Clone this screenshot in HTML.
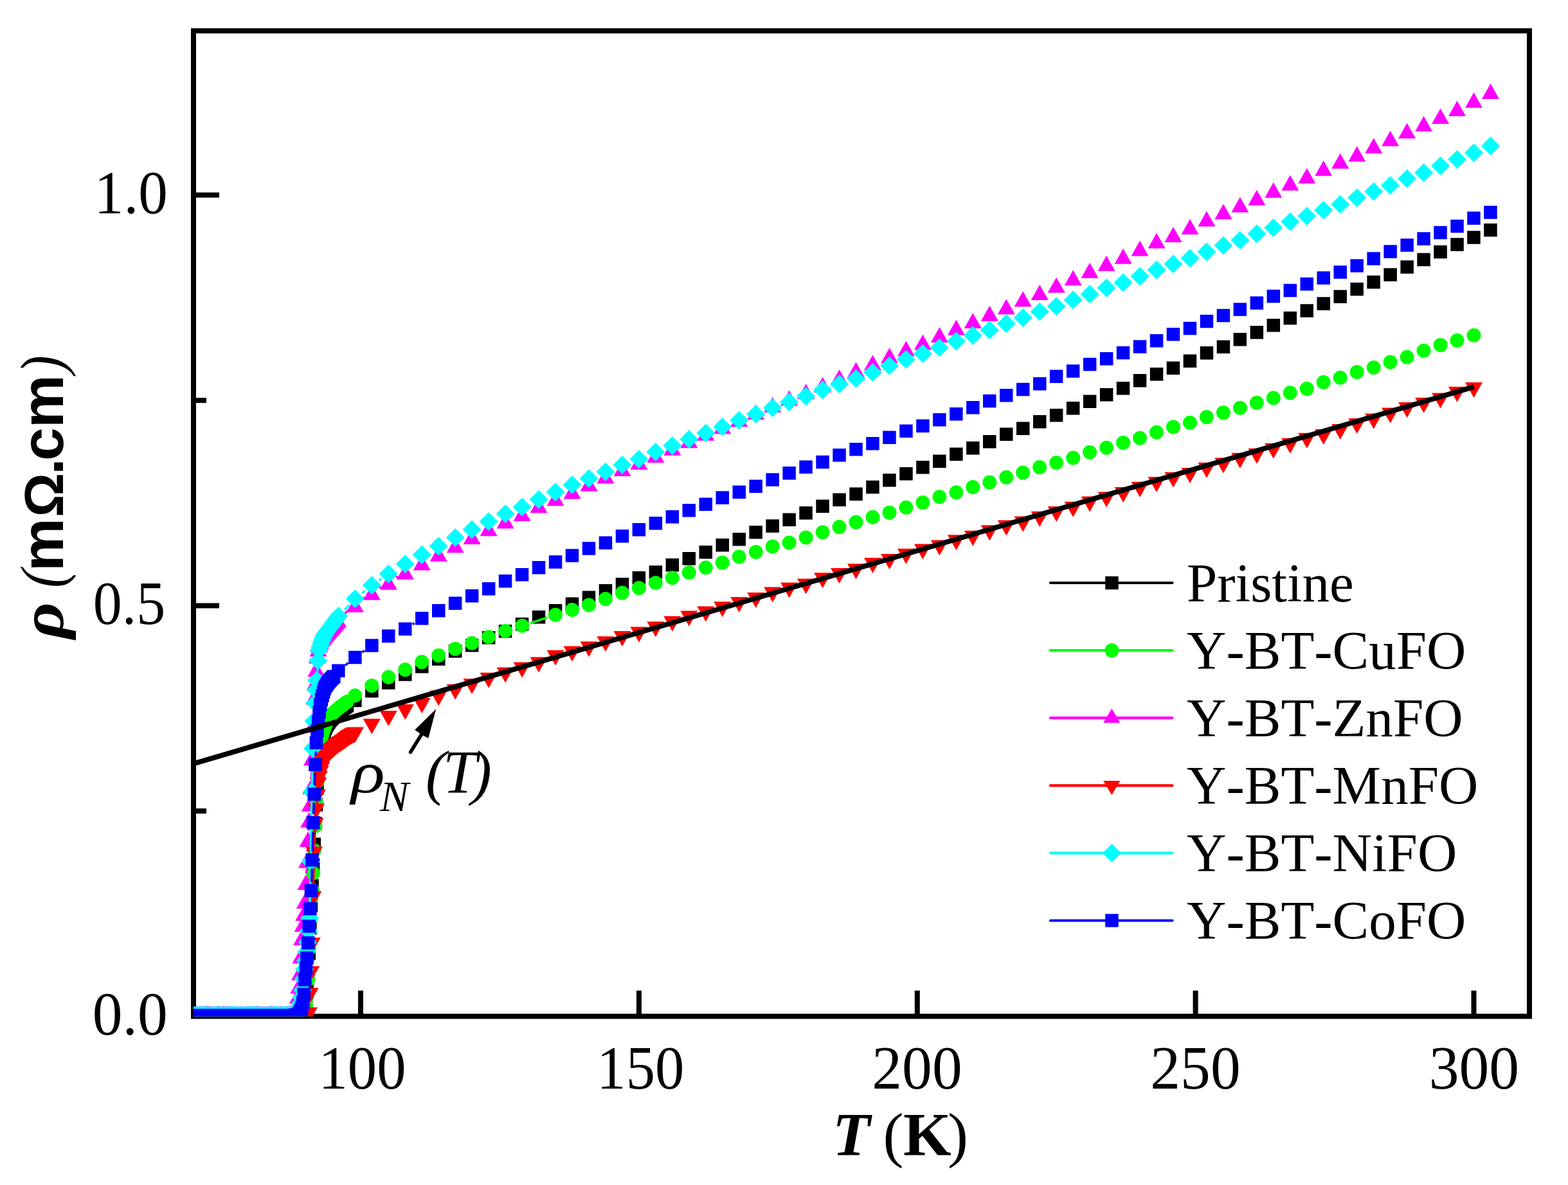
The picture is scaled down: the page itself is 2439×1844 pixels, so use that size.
<!DOCTYPE html>
<html><head><meta charset="utf-8"><title>Resistivity vs temperature</title>
<style>
html,body{margin:0;padding:0;background:#fff;}
body{width:2439px;height:1844px;overflow:hidden;}
svg{display:block;}
text{font-family:"Liberation Serif","Times New Roman",serif;fill:#000;font-kerning:none;text-rendering:optimizeSpeed;font-variant-ligatures:none;}
.tk{font-size:95px;}
.lg{font-size:85px;}
</style></head><body>
<svg width="2439" height="1844" viewBox="0 0 2439 1844">
<rect width="2439" height="1844" fill="#fff"/>
<defs><clipPath id="cp"><rect x="301" y="48" width="2078" height="1533.5"/></clipPath></defs>
<rect x="301" y="48" width="2078" height="1533.5" fill="none" stroke="#000" stroke-width="8"/>
<path d="M561.0 1581.5V1541.5M993.9 1581.5V1541.5M1426.8 1581.5V1541.5M1859.6 1581.5V1541.5M2292.5 1581.5V1541.5M301 942.5H341M301 303.6H341M301 1262.0H321M301 623.1H321" stroke="#000" stroke-width="8" fill="none"/>
<g clip-path="url(#cp)">
<path d="M489.7 1294.9L489.5 1300.1M488.1 1327.3L487.9 1332.4M486.5 1359.6L486.3 1364.4M484.9 1391.6L484.7 1395.8M483.4 1422.9L483 1430.4M481.8 1457.6L481.4 1469.9M480.1 1497.1L479.9 1502.2" stroke="#000000" stroke-width="3.5" fill="none"/>
<path d="M2308.2 347.7h20.5v20.5h-20.5zM2282.2 359.2h20.5v20.5h-20.5zM2256.3 370.2h20.5v20.5h-20.5zM2230.3 381.8h20.5v20.5h-20.5zM2204.3 393.8h20.5v20.5h-20.5zM2178.4 405.2h20.5v20.5h-20.5zM2152.4 417.2h20.5v20.5h-20.5zM2126.4 428.8h20.5v20.5h-20.5zM2100.4 439.8h20.5v20.5h-20.5zM2074.5 451.2h20.5v20.5h-20.5zM2048.5 462.2h20.5v20.5h-20.5zM2022.5 473.2h20.5v20.5h-20.5zM1996.6 484.8h20.5v20.5h-20.5zM1970.6 496.1h20.5v20.5h-20.5zM1944.6 506.9h20.5v20.5h-20.5zM1918.6 518h20.5v20.5h-20.5zM1892.7 529.4h20.5v20.5h-20.5zM1866.7 539.1h20.5v20.5h-20.5zM1840.7 551.5h20.5v20.5h-20.5zM1814.7 562.4h20.5v20.5h-20.5zM1788.8 572.1h20.5v20.5h-20.5zM1762.8 582h20.5v20.5h-20.5zM1736.8 594.1h20.5v20.5h-20.5zM1710.9 604.1h20.5v20.5h-20.5zM1684.9 614.5h20.5v20.5h-20.5zM1658.9 625h20.5v20.5h-20.5zM1632.9 636h20.5v20.5h-20.5zM1607 646h20.5v20.5h-20.5zM1581 656.5h20.5v20.5h-20.5zM1555 665.5h20.5v20.5h-20.5zM1529 677h20.5v20.5h-20.5zM1503.1 687h20.5v20.5h-20.5zM1477.1 696.5h20.5v20.5h-20.5zM1451.1 707.5h20.5v20.5h-20.5zM1425.2 717h20.5v20.5h-20.5zM1399.2 726.9h20.5v20.5h-20.5zM1373.2 737.1h20.5v20.5h-20.5zM1347.2 747.8h20.5v20.5h-20.5zM1321.3 758.5h20.5v20.5h-20.5zM1295.3 767.5h20.5v20.5h-20.5zM1269.3 777.5h20.5v20.5h-20.5zM1243.3 788.1h20.5v20.5h-20.5zM1217.4 798.5h20.5v20.5h-20.5zM1191.4 808.2h20.5v20.5h-20.5zM1165.4 818h20.5v20.5h-20.5zM1139.5 829h20.5v20.5h-20.5zM1113.5 838.1h20.5v20.5h-20.5zM1087.5 848.9h20.5v20.5h-20.5zM1061.5 859h20.5v20.5h-20.5zM1035.6 869h20.5v20.5h-20.5zM1009.6 880h20.5v20.5h-20.5zM983.6 888.9h20.5v20.5h-20.5zM957.7 899.1h20.5v20.5h-20.5zM931.7 908.9h20.5v20.5h-20.5zM905.7 919.6h20.5v20.5h-20.5zM879.7 929.6h20.5v20.5h-20.5zM853.8 939.9h20.5v20.5h-20.5zM827.8 950h20.5v20.5h-20.5zM801.8 960.9h20.5v20.5h-20.5zM775.8 971.9h20.5v20.5h-20.5zM749.9 981.9h20.5v20.5h-20.5zM723.9 994h20.5v20.5h-20.5zM697.9 1003.1h20.5v20.5h-20.5zM672 1015.2h20.5v20.5h-20.5zM646 1027h20.5v20.5h-20.5zM620 1039.3h20.5v20.5h-20.5zM594 1052.2h20.5v20.5h-20.5zM568.1 1065h20.5v20.5h-20.5zM542.1 1079.8h20.5v20.5h-20.5zM529.8 1087.8h20.5v20.5h-20.5zM528.1 1088.8h20.5v20.5h-20.5zM526.5 1090h20.5v20.5h-20.5zM524.9 1091.1h20.5v20.5h-20.5zM523.3 1092.3h20.5v20.5h-20.5zM521.7 1093.6h20.5v20.5h-20.5zM520.1 1094.8h20.5v20.5h-20.5zM518.5 1096.1h20.5v20.5h-20.5zM516.9 1097.4h20.5v20.5h-20.5zM515.3 1098.7h20.5v20.5h-20.5zM513.7 1100.1h20.5v20.5h-20.5zM512.1 1101.5h20.5v20.5h-20.5zM510.5 1103h20.5v20.5h-20.5zM508.9 1104.5h20.5v20.5h-20.5zM507.3 1106.2h20.5v20.5h-20.5zM505.7 1107.9h20.5v20.5h-20.5zM504.1 1109.7h20.5v20.5h-20.5zM502.5 1111.7h20.5v20.5h-20.5zM500.9 1113.9h20.5v20.5h-20.5zM499.3 1116.4h20.5v20.5h-20.5zM497.7 1119.5h20.5v20.5h-20.5zM496.1 1123.2h20.5v20.5h-20.5zM494.5 1127.3h20.5v20.5h-20.5zM492.9 1131.4h20.5v20.5h-20.5zM491.3 1136.2h20.5v20.5h-20.5zM489.7 1142.8h20.5v20.5h-20.5zM488.1 1154h20.5v20.5h-20.5zM486.5 1169.9h20.5v20.5h-20.5zM484.9 1191.4h20.5v20.5h-20.5zM483.3 1215.9h20.5v20.5h-20.5zM481.7 1242.1h20.5v20.5h-20.5zM480.1 1271.1h20.5v20.5h-20.5zM478.5 1303.5h20.5v20.5h-20.5zM476.9 1335.8h20.5v20.5h-20.5zM475.3 1367.8h20.5v20.5h-20.5zM473.7 1399.1h20.5v20.5h-20.5zM472.1 1433.8h20.5v20.5h-20.5zM470.5 1473.3h20.5v20.5h-20.5zM468.9 1505.6h20.5v20.5h-20.5zM467.3 1529.9h20.5v20.5h-20.5zM465.7 1547.9h20.5v20.5h-20.5zM464.1 1557.3h20.5v20.5h-20.5zM462.5 1562.9h20.5v20.5h-20.5zM460.9 1566.5h20.5v20.5h-20.5zM459.3 1567.9h20.5v20.5h-20.5zM457.7 1568.5h20.5v20.5h-20.5zM456.1 1568.9h20.5v20.5h-20.5zM454.5 1569.3h20.5v20.5h-20.5zM452.9 1569.6h20.5v20.5h-20.5zM451.3 1569.7h20.5v20.5h-20.5zM449.7 1569.8h20.5v20.5h-20.5zM448.1 1569.8h20.5v20.5h-20.5zM446.5 1569.8h20.5v20.5h-20.5zM444.9 1569.8h20.5v20.5h-20.5zM443.3 1569.8h20.5v20.5h-20.5zM441.7 1569.8h20.5v20.5h-20.5zM440.1 1569.8h20.5v20.5h-20.5zM438.5 1569.8h20.5v20.5h-20.5zM436.9 1569.8h20.5v20.5h-20.5zM435.3 1569.8h20.5v20.5h-20.5zM433.7 1569.8h20.5v20.5h-20.5zM432.1 1569.8h20.5v20.5h-20.5zM430.5 1569.8h20.5v20.5h-20.5zM428.9 1569.8h20.5v20.5h-20.5zM427.3 1569.8h20.5v20.5h-20.5zM425.7 1569.8h20.5v20.5h-20.5zM424.1 1569.8h20.5v20.5h-20.5zM422.5 1569.8h20.5v20.5h-20.5zM420.9 1569.8h20.5v20.5h-20.5zM419.3 1569.8h20.5v20.5h-20.5zM417.7 1569.8h20.5v20.5h-20.5zM416.1 1569.8h20.5v20.5h-20.5zM414.5 1569.8h20.5v20.5h-20.5zM412.9 1569.8h20.5v20.5h-20.5zM411.3 1569.8h20.5v20.5h-20.5zM409.7 1569.8h20.5v20.5h-20.5zM408.1 1569.8h20.5v20.5h-20.5zM406.5 1569.8h20.5v20.5h-20.5zM404.9 1569.8h20.5v20.5h-20.5zM403.3 1569.8h20.5v20.5h-20.5zM401.7 1569.8h20.5v20.5h-20.5zM400.1 1569.8h20.5v20.5h-20.5zM398.5 1569.8h20.5v20.5h-20.5zM396.9 1569.8h20.5v20.5h-20.5zM395.3 1569.8h20.5v20.5h-20.5zM393.7 1569.8h20.5v20.5h-20.5zM392.1 1569.8h20.5v20.5h-20.5zM390.5 1569.8h20.5v20.5h-20.5zM388.9 1569.8h20.5v20.5h-20.5zM387.3 1569.8h20.5v20.5h-20.5zM385.7 1569.8h20.5v20.5h-20.5zM384.1 1569.8h20.5v20.5h-20.5zM382.5 1569.8h20.5v20.5h-20.5zM380.9 1569.8h20.5v20.5h-20.5zM379.3 1569.8h20.5v20.5h-20.5zM377.7 1569.8h20.5v20.5h-20.5zM376.1 1569.8h20.5v20.5h-20.5zM374.5 1569.8h20.5v20.5h-20.5zM372.9 1569.8h20.5v20.5h-20.5zM371.3 1569.8h20.5v20.5h-20.5zM369.7 1569.8h20.5v20.5h-20.5zM368.1 1569.8h20.5v20.5h-20.5zM366.5 1569.8h20.5v20.5h-20.5zM364.9 1569.8h20.5v20.5h-20.5zM363.3 1569.8h20.5v20.5h-20.5zM361.7 1569.8h20.5v20.5h-20.5zM360.1 1569.8h20.5v20.5h-20.5zM358.5 1569.8h20.5v20.5h-20.5zM356.9 1569.8h20.5v20.5h-20.5zM355.3 1569.8h20.5v20.5h-20.5zM353.7 1569.8h20.5v20.5h-20.5zM352.1 1569.8h20.5v20.5h-20.5zM350.5 1569.8h20.5v20.5h-20.5zM348.9 1569.8h20.5v20.5h-20.5zM347.3 1569.8h20.5v20.5h-20.5zM345.7 1569.8h20.5v20.5h-20.5zM344.1 1569.8h20.5v20.5h-20.5zM342.5 1569.8h20.5v20.5h-20.5zM340.9 1569.8h20.5v20.5h-20.5zM339.3 1569.8h20.5v20.5h-20.5zM337.7 1569.8h20.5v20.5h-20.5zM336.1 1569.8h20.5v20.5h-20.5zM334.5 1569.8h20.5v20.5h-20.5zM332.9 1569.8h20.5v20.5h-20.5zM331.3 1569.8h20.5v20.5h-20.5zM329.7 1569.8h20.5v20.5h-20.5zM328.1 1569.8h20.5v20.5h-20.5zM326.5 1569.8h20.5v20.5h-20.5zM324.9 1569.8h20.5v20.5h-20.5zM323.3 1569.8h20.5v20.5h-20.5zM321.7 1569.8h20.5v20.5h-20.5zM320.1 1569.8h20.5v20.5h-20.5zM318.5 1569.8h20.5v20.5h-20.5zM316.9 1569.8h20.5v20.5h-20.5zM315.3 1569.8h20.5v20.5h-20.5zM313.7 1569.8h20.5v20.5h-20.5zM312.1 1569.8h20.5v20.5h-20.5zM310.5 1569.8h20.5v20.5h-20.5zM308.9 1569.8h20.5v20.5h-20.5zM307.3 1569.8h20.5v20.5h-20.5zM305.7 1569.8h20.5v20.5h-20.5zM304.1 1569.8h20.5v20.5h-20.5zM302.5 1569.8h20.5v20.5h-20.5zM300.9 1569.8h20.5v20.5h-20.5zM299.3 1569.8h20.5v20.5h-20.5zM297.7 1569.8h20.5v20.5h-20.5zM296.1 1569.8h20.5v20.5h-20.5zM294.5 1569.8h20.5v20.5h-20.5zM292.9 1569.8h20.5v20.5h-20.5zM291.3 1569.8h20.5v20.5h-20.5z" fill="#000000"/>
<path d="M851.1 961L825 969.6M492.9 1230.1L492.7 1235.5M491.4 1262.7L491 1271.7M489.8 1298.9L489.4 1309.8M488.2 1337L487.8 1345M483.3 1412.4L483.1 1415.7M481.9 1442.9L481.3 1462.1M480.4 1489.2L479.6 1510.9" stroke="#00ff00" stroke-width="3.5" fill="none"/>
<path d="M2281.5 521.8a11 11 0 1 0 22 0a11 11 0 1 0-22 0zM2255.5 529.7a11 11 0 1 0 22 0a11 11 0 1 0-22 0zM2229.6 536.9a11 11 0 1 0 22 0a11 11 0 1 0-22 0zM2203.6 545.8a11 11 0 1 0 22 0a11 11 0 1 0-22 0zM2177.6 555.8a11 11 0 1 0 22 0a11 11 0 1 0-22 0zM2151.6 563.5a11 11 0 1 0 22 0a11 11 0 1 0-22 0zM2125.7 571.9a11 11 0 1 0 22 0a11 11 0 1 0-22 0zM2099.7 578.9a11 11 0 1 0 22 0a11 11 0 1 0-22 0zM2073.7 587.8a11 11 0 1 0 22 0a11 11 0 1 0-22 0zM2047.7 594.8a11 11 0 1 0 22 0a11 11 0 1 0-22 0zM2021.8 604.9a11 11 0 1 0 22 0a11 11 0 1 0-22 0zM1995.8 611.3a11 11 0 1 0 22 0a11 11 0 1 0-22 0zM1969.8 619.2a11 11 0 1 0 22 0a11 11 0 1 0-22 0zM1943.9 626.8a11 11 0 1 0 22 0a11 11 0 1 0-22 0zM1917.9 634.8a11 11 0 1 0 22 0a11 11 0 1 0-22 0zM1891.9 642.1a11 11 0 1 0 22 0a11 11 0 1 0-22 0zM1865.9 648.9a11 11 0 1 0 22 0a11 11 0 1 0-22 0zM1840 657.8a11 11 0 1 0 22 0a11 11 0 1 0-22 0zM1814 664.4a11 11 0 1 0 22 0a11 11 0 1 0-22 0zM1788 672.8a11 11 0 1 0 22 0a11 11 0 1 0-22 0zM1762.1 681.7a11 11 0 1 0 22 0a11 11 0 1 0-22 0zM1736.1 688.9a11 11 0 1 0 22 0a11 11 0 1 0-22 0zM1710.1 696.7a11 11 0 1 0 22 0a11 11 0 1 0-22 0zM1684.1 703.7a11 11 0 1 0 22 0a11 11 0 1 0-22 0zM1658.2 712.5a11 11 0 1 0 22 0a11 11 0 1 0-22 0zM1632.2 720a11 11 0 1 0 22 0a11 11 0 1 0-22 0zM1606.2 727.1a11 11 0 1 0 22 0a11 11 0 1 0-22 0zM1580.2 735.5a11 11 0 1 0 22 0a11 11 0 1 0-22 0zM1554.3 742.7a11 11 0 1 0 22 0a11 11 0 1 0-22 0zM1528.3 750.6a11 11 0 1 0 22 0a11 11 0 1 0-22 0zM1502.3 758a11 11 0 1 0 22 0a11 11 0 1 0-22 0zM1476.4 766.3a11 11 0 1 0 22 0a11 11 0 1 0-22 0zM1450.4 773.3a11 11 0 1 0 22 0a11 11 0 1 0-22 0zM1424.4 782.1a11 11 0 1 0 22 0a11 11 0 1 0-22 0zM1398.4 789.8a11 11 0 1 0 22 0a11 11 0 1 0-22 0zM1372.5 797.7a11 11 0 1 0 22 0a11 11 0 1 0-22 0zM1346.5 804.8a11 11 0 1 0 22 0a11 11 0 1 0-22 0zM1320.5 812.5a11 11 0 1 0 22 0a11 11 0 1 0-22 0zM1294.5 820.1a11 11 0 1 0 22 0a11 11 0 1 0-22 0zM1268.6 828.3a11 11 0 1 0 22 0a11 11 0 1 0-22 0zM1242.6 836.4a11 11 0 1 0 22 0a11 11 0 1 0-22 0zM1216.6 844.5a11 11 0 1 0 22 0a11 11 0 1 0-22 0zM1190.7 850.5a11 11 0 1 0 22 0a11 11 0 1 0-22 0zM1164.7 858.9a11 11 0 1 0 22 0a11 11 0 1 0-22 0zM1138.7 866.5a11 11 0 1 0 22 0a11 11 0 1 0-22 0zM1112.7 875.6a11 11 0 1 0 22 0a11 11 0 1 0-22 0zM1086.8 883.3a11 11 0 1 0 22 0a11 11 0 1 0-22 0zM1060.8 890.9a11 11 0 1 0 22 0a11 11 0 1 0-22 0zM1034.8 899.3a11 11 0 1 0 22 0a11 11 0 1 0-22 0zM1008.8 907a11 11 0 1 0 22 0a11 11 0 1 0-22 0zM982.9 915a11 11 0 1 0 22 0a11 11 0 1 0-22 0zM956.9 922.6a11 11 0 1 0 22 0a11 11 0 1 0-22 0zM930.9 932.1a11 11 0 1 0 22 0a11 11 0 1 0-22 0zM905 941.5a11 11 0 1 0 22 0a11 11 0 1 0-22 0zM879 949a11 11 0 1 0 22 0a11 11 0 1 0-22 0zM853 956.8a11 11 0 1 0 22 0a11 11 0 1 0-22 0zM801.1 973.8a11 11 0 1 0 22 0a11 11 0 1 0-22 0zM775.1 981.9a11 11 0 1 0 22 0a11 11 0 1 0-22 0zM749.1 991.3a11 11 0 1 0 22 0a11 11 0 1 0-22 0zM723.1 1000.8a11 11 0 1 0 22 0a11 11 0 1 0-22 0zM697.2 1009.8a11 11 0 1 0 22 0a11 11 0 1 0-22 0zM671.2 1020a11 11 0 1 0 22 0a11 11 0 1 0-22 0zM645.2 1030.1a11 11 0 1 0 22 0a11 11 0 1 0-22 0zM619.3 1042.1a11 11 0 1 0 22 0a11 11 0 1 0-22 0zM593.3 1053.7a11 11 0 1 0 22 0a11 11 0 1 0-22 0zM567.3 1066.9a11 11 0 1 0 22 0a11 11 0 1 0-22 0zM541.3 1082.2a11 11 0 1 0 22 0a11 11 0 1 0-22 0zM529 1092a11 11 0 1 0 22 0a11 11 0 1 0-22 0zM527.4 1093.1a11 11 0 1 0 22 0a11 11 0 1 0-22 0zM525.8 1094.2a11 11 0 1 0 22 0a11 11 0 1 0-22 0zM524.2 1095.4a11 11 0 1 0 22 0a11 11 0 1 0-22 0zM522.6 1096.6a11 11 0 1 0 22 0a11 11 0 1 0-22 0zM521 1097.8a11 11 0 1 0 22 0a11 11 0 1 0-22 0zM519.4 1099.1a11 11 0 1 0 22 0a11 11 0 1 0-22 0zM517.8 1100.3a11 11 0 1 0 22 0a11 11 0 1 0-22 0zM516.2 1101.7a11 11 0 1 0 22 0a11 11 0 1 0-22 0zM514.6 1103a11 11 0 1 0 22 0a11 11 0 1 0-22 0zM513 1104.3a11 11 0 1 0 22 0a11 11 0 1 0-22 0zM511.4 1105.7a11 11 0 1 0 22 0a11 11 0 1 0-22 0zM509.8 1107.2a11 11 0 1 0 22 0a11 11 0 1 0-22 0zM508.2 1108.8a11 11 0 1 0 22 0a11 11 0 1 0-22 0zM506.6 1110.4a11 11 0 1 0 22 0a11 11 0 1 0-22 0zM505 1112.1a11 11 0 1 0 22 0a11 11 0 1 0-22 0zM503.4 1113.9a11 11 0 1 0 22 0a11 11 0 1 0-22 0zM501.8 1115.9a11 11 0 1 0 22 0a11 11 0 1 0-22 0zM500.2 1118.1a11 11 0 1 0 22 0a11 11 0 1 0-22 0zM498.6 1120.7a11 11 0 1 0 22 0a11 11 0 1 0-22 0zM497 1124.1a11 11 0 1 0 22 0a11 11 0 1 0-22 0zM495.4 1128.1a11 11 0 1 0 22 0a11 11 0 1 0-22 0zM493.8 1132.6a11 11 0 1 0 22 0a11 11 0 1 0-22 0zM492.2 1137.3a11 11 0 1 0 22 0a11 11 0 1 0-22 0zM490.6 1142.8a11 11 0 1 0 22 0a11 11 0 1 0-22 0zM489 1150a11 11 0 1 0 22 0a11 11 0 1 0-22 0zM487.4 1161.7a11 11 0 1 0 22 0a11 11 0 1 0-22 0zM485.8 1177a11 11 0 1 0 22 0a11 11 0 1 0-22 0zM484.2 1194.1a11 11 0 1 0 22 0a11 11 0 1 0-22 0zM482.6 1216.5a11 11 0 1 0 22 0a11 11 0 1 0-22 0zM481 1249.1a11 11 0 1 0 22 0a11 11 0 1 0-22 0zM479.4 1285.3a11 11 0 1 0 22 0a11 11 0 1 0-22 0zM477.8 1323.4a11 11 0 1 0 22 0a11 11 0 1 0-22 0zM476.2 1358.6a11 11 0 1 0 22 0a11 11 0 1 0-22 0zM474.6 1384.7a11 11 0 1 0 22 0a11 11 0 1 0-22 0zM473 1398.8a11 11 0 1 0 22 0a11 11 0 1 0-22 0zM471.4 1429.3a11 11 0 1 0 22 0a11 11 0 1 0-22 0zM469.8 1475.7a11 11 0 1 0 22 0a11 11 0 1 0-22 0zM468.2 1524.5a11 11 0 1 0 22 0a11 11 0 1 0-22 0zM466.6 1551.1a11 11 0 1 0 22 0a11 11 0 1 0-22 0zM465 1565a11 11 0 1 0 22 0a11 11 0 1 0-22 0zM463.4 1570.6a11 11 0 1 0 22 0a11 11 0 1 0-22 0zM461.8 1574.6a11 11 0 1 0 22 0a11 11 0 1 0-22 0zM460.2 1577.1a11 11 0 1 0 22 0a11 11 0 1 0-22 0zM458.6 1578.2a11 11 0 1 0 22 0a11 11 0 1 0-22 0zM457 1578.7a11 11 0 1 0 22 0a11 11 0 1 0-22 0zM455.4 1579.2a11 11 0 1 0 22 0a11 11 0 1 0-22 0zM453.8 1579.5a11 11 0 1 0 22 0a11 11 0 1 0-22 0zM452.2 1579.8a11 11 0 1 0 22 0a11 11 0 1 0-22 0zM450.6 1579.9a11 11 0 1 0 22 0a11 11 0 1 0-22 0zM449 1580a11 11 0 1 0 22 0a11 11 0 1 0-22 0zM447.4 1580a11 11 0 1 0 22 0a11 11 0 1 0-22 0zM445.8 1580a11 11 0 1 0 22 0a11 11 0 1 0-22 0zM444.2 1580a11 11 0 1 0 22 0a11 11 0 1 0-22 0zM442.6 1580a11 11 0 1 0 22 0a11 11 0 1 0-22 0zM441 1580a11 11 0 1 0 22 0a11 11 0 1 0-22 0zM439.4 1580a11 11 0 1 0 22 0a11 11 0 1 0-22 0zM437.8 1580a11 11 0 1 0 22 0a11 11 0 1 0-22 0zM436.2 1580a11 11 0 1 0 22 0a11 11 0 1 0-22 0zM434.6 1580a11 11 0 1 0 22 0a11 11 0 1 0-22 0zM433 1580a11 11 0 1 0 22 0a11 11 0 1 0-22 0zM431.4 1580a11 11 0 1 0 22 0a11 11 0 1 0-22 0zM429.8 1580a11 11 0 1 0 22 0a11 11 0 1 0-22 0zM428.2 1580a11 11 0 1 0 22 0a11 11 0 1 0-22 0zM426.6 1580a11 11 0 1 0 22 0a11 11 0 1 0-22 0zM425 1580a11 11 0 1 0 22 0a11 11 0 1 0-22 0zM423.4 1580a11 11 0 1 0 22 0a11 11 0 1 0-22 0zM421.8 1580a11 11 0 1 0 22 0a11 11 0 1 0-22 0zM420.2 1580a11 11 0 1 0 22 0a11 11 0 1 0-22 0zM418.6 1580a11 11 0 1 0 22 0a11 11 0 1 0-22 0zM417 1580a11 11 0 1 0 22 0a11 11 0 1 0-22 0zM415.4 1580a11 11 0 1 0 22 0a11 11 0 1 0-22 0zM413.8 1580a11 11 0 1 0 22 0a11 11 0 1 0-22 0zM412.2 1580a11 11 0 1 0 22 0a11 11 0 1 0-22 0zM410.6 1580a11 11 0 1 0 22 0a11 11 0 1 0-22 0zM409 1580a11 11 0 1 0 22 0a11 11 0 1 0-22 0zM407.4 1580a11 11 0 1 0 22 0a11 11 0 1 0-22 0zM405.8 1580a11 11 0 1 0 22 0a11 11 0 1 0-22 0zM404.2 1580a11 11 0 1 0 22 0a11 11 0 1 0-22 0zM402.6 1580a11 11 0 1 0 22 0a11 11 0 1 0-22 0zM401 1580a11 11 0 1 0 22 0a11 11 0 1 0-22 0zM399.4 1580a11 11 0 1 0 22 0a11 11 0 1 0-22 0zM397.8 1580a11 11 0 1 0 22 0a11 11 0 1 0-22 0zM396.2 1580a11 11 0 1 0 22 0a11 11 0 1 0-22 0zM394.6 1580a11 11 0 1 0 22 0a11 11 0 1 0-22 0zM393 1580a11 11 0 1 0 22 0a11 11 0 1 0-22 0zM391.4 1580a11 11 0 1 0 22 0a11 11 0 1 0-22 0zM389.8 1580a11 11 0 1 0 22 0a11 11 0 1 0-22 0zM388.2 1580a11 11 0 1 0 22 0a11 11 0 1 0-22 0zM386.6 1580a11 11 0 1 0 22 0a11 11 0 1 0-22 0zM385 1580a11 11 0 1 0 22 0a11 11 0 1 0-22 0zM383.4 1580a11 11 0 1 0 22 0a11 11 0 1 0-22 0zM381.8 1580a11 11 0 1 0 22 0a11 11 0 1 0-22 0zM380.2 1580a11 11 0 1 0 22 0a11 11 0 1 0-22 0zM378.6 1580a11 11 0 1 0 22 0a11 11 0 1 0-22 0zM377 1580a11 11 0 1 0 22 0a11 11 0 1 0-22 0zM375.4 1580a11 11 0 1 0 22 0a11 11 0 1 0-22 0zM373.8 1580a11 11 0 1 0 22 0a11 11 0 1 0-22 0zM372.2 1580a11 11 0 1 0 22 0a11 11 0 1 0-22 0zM370.6 1580a11 11 0 1 0 22 0a11 11 0 1 0-22 0zM369 1580a11 11 0 1 0 22 0a11 11 0 1 0-22 0zM367.4 1580a11 11 0 1 0 22 0a11 11 0 1 0-22 0zM365.8 1580a11 11 0 1 0 22 0a11 11 0 1 0-22 0zM364.2 1580a11 11 0 1 0 22 0a11 11 0 1 0-22 0zM362.6 1580a11 11 0 1 0 22 0a11 11 0 1 0-22 0zM361 1580a11 11 0 1 0 22 0a11 11 0 1 0-22 0zM359.4 1580a11 11 0 1 0 22 0a11 11 0 1 0-22 0zM357.8 1580a11 11 0 1 0 22 0a11 11 0 1 0-22 0zM356.2 1580a11 11 0 1 0 22 0a11 11 0 1 0-22 0zM354.6 1580a11 11 0 1 0 22 0a11 11 0 1 0-22 0zM353 1580a11 11 0 1 0 22 0a11 11 0 1 0-22 0zM351.4 1580a11 11 0 1 0 22 0a11 11 0 1 0-22 0zM349.8 1580a11 11 0 1 0 22 0a11 11 0 1 0-22 0zM348.2 1580a11 11 0 1 0 22 0a11 11 0 1 0-22 0zM346.6 1580a11 11 0 1 0 22 0a11 11 0 1 0-22 0zM345 1580a11 11 0 1 0 22 0a11 11 0 1 0-22 0zM343.4 1580a11 11 0 1 0 22 0a11 11 0 1 0-22 0zM341.8 1580a11 11 0 1 0 22 0a11 11 0 1 0-22 0zM340.2 1580a11 11 0 1 0 22 0a11 11 0 1 0-22 0zM338.6 1580a11 11 0 1 0 22 0a11 11 0 1 0-22 0zM337 1580a11 11 0 1 0 22 0a11 11 0 1 0-22 0zM335.4 1580a11 11 0 1 0 22 0a11 11 0 1 0-22 0zM333.8 1580a11 11 0 1 0 22 0a11 11 0 1 0-22 0zM332.2 1580a11 11 0 1 0 22 0a11 11 0 1 0-22 0zM330.6 1580a11 11 0 1 0 22 0a11 11 0 1 0-22 0zM329 1580a11 11 0 1 0 22 0a11 11 0 1 0-22 0zM327.4 1580a11 11 0 1 0 22 0a11 11 0 1 0-22 0zM325.8 1580a11 11 0 1 0 22 0a11 11 0 1 0-22 0zM324.2 1580a11 11 0 1 0 22 0a11 11 0 1 0-22 0zM322.6 1580a11 11 0 1 0 22 0a11 11 0 1 0-22 0zM321 1580a11 11 0 1 0 22 0a11 11 0 1 0-22 0zM319.4 1580a11 11 0 1 0 22 0a11 11 0 1 0-22 0zM317.8 1580a11 11 0 1 0 22 0a11 11 0 1 0-22 0zM316.2 1580a11 11 0 1 0 22 0a11 11 0 1 0-22 0zM314.6 1580a11 11 0 1 0 22 0a11 11 0 1 0-22 0zM313 1580a11 11 0 1 0 22 0a11 11 0 1 0-22 0zM311.4 1580a11 11 0 1 0 22 0a11 11 0 1 0-22 0zM309.8 1580a11 11 0 1 0 22 0a11 11 0 1 0-22 0zM308.2 1580a11 11 0 1 0 22 0a11 11 0 1 0-22 0zM306.6 1580a11 11 0 1 0 22 0a11 11 0 1 0-22 0zM305 1580a11 11 0 1 0 22 0a11 11 0 1 0-22 0zM303.4 1580a11 11 0 1 0 22 0a11 11 0 1 0-22 0zM301.8 1580a11 11 0 1 0 22 0a11 11 0 1 0-22 0zM300.2 1580a11 11 0 1 0 22 0a11 11 0 1 0-22 0zM298.6 1580a11 11 0 1 0 22 0a11 11 0 1 0-22 0zM297 1580a11 11 0 1 0 22 0a11 11 0 1 0-22 0zM295.4 1580a11 11 0 1 0 22 0a11 11 0 1 0-22 0zM293.8 1580a11 11 0 1 0 22 0a11 11 0 1 0-22 0zM292.2 1580a11 11 0 1 0 22 0a11 11 0 1 0-22 0zM290.6 1580a11 11 0 1 0 22 0a11 11 0 1 0-22 0z" fill="#00ff00"/>
<path d="M618.7 896.9L615.9 898.7M592.7 912.9L589.9 914.6M567.4 929.8L563.3 932.7M542 949.7L535.8 955M488.2 1097.9L487.6 1114.7M486.7 1141.9L485.9 1165.6M485 1192.8L484.4 1210.3M480 1289.4L479.8 1292.5M478.4 1319.7L478.2 1325.1M476.9 1352.3L476.5 1359.5" stroke="#ff00ff" stroke-width="3.5" fill="none"/>
<path d="M2318.5 129.9l13.5 24h-27zM2292.5 143.8l13.5 24h-27zM2266.5 156.8l13.5 24h-27zM2240.6 168.8l13.5 24h-27zM2214.6 180.5l13.5 24h-27zM2188.6 191.5l13.5 24h-27zM2162.6 203.5l13.5 24h-27zM2136.7 214.8l13.5 24h-27zM2110.7 227.5l13.5 24h-27zM2084.7 238.5l13.5 24h-27zM2058.7 249.8l13.5 24h-27zM2032.8 261.5l13.5 24h-27zM2006.8 272.5l13.5 24h-27zM1980.8 283.8l13.5 24h-27zM1954.9 295.5l13.5 24h-27zM1928.9 306.5l13.5 24h-27zM1902.9 317.2l13.5 24h-27zM1876.9 328.5l13.5 24h-27zM1851 340.8l13.5 24h-27zM1825 353l13.5 24h-27zM1799 362.6l13.5 24h-27zM1773.1 374.6l13.5 24h-27zM1747.1 386.7l13.5 24h-27zM1721.1 397.8l13.5 24h-27zM1695.1 408.7l13.5 24h-27zM1669.2 420.2l13.5 24h-27zM1643.2 431.5l13.5 24h-27zM1617.2 442.9l13.5 24h-27zM1591.2 453.3l13.5 24h-27zM1565.3 465.3l13.5 24h-27zM1539.3 475.8l13.5 24h-27zM1513.3 486.9l13.5 24h-27zM1487.4 497.6l13.5 24h-27zM1461.4 509.1l13.5 24h-27zM1435.4 520.4l13.5 24h-27zM1409.4 530.5l13.5 24h-27zM1383.5 541.2l13.5 24h-27zM1357.5 552.3l13.5 24h-27zM1331.5 563.6l13.5 24h-27zM1305.5 575l13.5 24h-27zM1279.6 586.7l13.5 24h-27zM1253.6 597.2l13.5 24h-27zM1227.6 607.5l13.5 24h-27zM1201.7 617.7l13.5 24h-27zM1175.7 628.9l13.5 24h-27zM1149.7 640.2l13.5 24h-27zM1123.7 651.2l13.5 24h-27zM1097.8 661.7l13.5 24h-27zM1071.8 673.2l13.5 24h-27zM1045.8 684.7l13.5 24h-27zM1019.8 695.9l13.5 24h-27zM993.9 706.8l13.5 24h-27zM967.9 716.9l13.5 24h-27zM941.9 728.5l13.5 24h-27zM916 740.4l13.5 24h-27zM890 752.5l13.5 24h-27zM864 763.2l13.5 24h-27zM838 774.3l13.5 24h-27zM812.1 786.9l13.5 24h-27zM786.1 798.5l13.5 24h-27zM760.1 810.3l13.5 24h-27zM734.1 823l13.5 24h-27zM708.2 836.2l13.5 24h-27zM682.2 849.7l13.5 24h-27zM656.2 863.5l13.5 24h-27zM630.3 877.8l13.5 24h-27zM604.3 893.8l13.5 24h-27zM578.3 909.7l13.5 24h-27zM552.3 928.8l13.5 24h-27zM525.5 951.9l13.5 24h-27zM523.9 953.7l13.5 24h-27zM522.3 955.5l13.5 24h-27zM520.7 957.4l13.5 24h-27zM519.1 959.2l13.5 24h-27zM517.5 961.1l13.5 24h-27zM515.9 962.9l13.5 24h-27zM514.3 964.8l13.5 24h-27zM512.7 966.7l13.5 24h-27zM511.1 968.5l13.5 24h-27zM509.5 970.4l13.5 24h-27zM507.9 972.3l13.5 24h-27zM506.3 974.3l13.5 24h-27zM504.7 976.4l13.5 24h-27zM503.1 978.5l13.5 24h-27zM501.5 980.6l13.5 24h-27zM499.9 983.2l13.5 24h-27zM498.3 986.6l13.5 24h-27zM496.7 991.2l13.5 24h-27zM495.1 997.5l13.5 24h-27zM493.5 1008.6l13.5 24h-27zM491.9 1028.9l13.5 24h-27zM490.3 1050l13.5 24h-27zM488.7 1072.3l13.5 24h-27zM487.1 1116.3l13.5 24h-27zM485.5 1167.2l13.5 24h-27zM483.9 1211.9l13.5 24h-27zM482.3 1238.8l13.5 24h-27zM480.7 1263.8l13.5 24h-27zM479.1 1294.1l13.5 24h-27zM477.5 1326.7l13.5 24h-27zM475.9 1361.1l13.5 24h-27zM474.3 1390l13.5 24h-27zM472.7 1409.1l13.5 24h-27zM471.1 1425.9l13.5 24h-27zM469.5 1446.9l13.5 24h-27zM467.9 1475.2l13.5 24h-27zM466.3 1501.4l13.5 24h-27zM464.7 1522.2l13.5 24h-27zM463.1 1538.1l13.5 24h-27zM461.5 1550.2l13.5 24h-27zM459.9 1557l13.5 24h-27zM458.3 1561l13.5 24h-27zM456.7 1563.3l13.5 24h-27zM455.1 1564.3l13.5 24h-27zM453.5 1564.2l13.5 24h-27zM451.9 1564.6l13.5 24h-27zM450.3 1566l13.5 24h-27zM448.7 1565.2l13.5 24h-27zM447.1 1565.1l13.5 24h-27zM445.5 1566.2l13.5 24h-27zM443.9 1565.5l13.5 24h-27zM442.3 1566l13.5 24h-27zM440.7 1565.5l13.5 24h-27zM439.1 1565.7l13.5 24h-27zM437.5 1565l13.5 24h-27zM435.9 1565.7l13.5 24h-27zM434.3 1566l13.5 24h-27zM432.7 1565.5l13.5 24h-27zM431.1 1565.8l13.5 24h-27zM429.5 1565.7l13.5 24h-27zM427.9 1564.9l13.5 24h-27zM426.3 1565.9l13.5 24h-27zM424.7 1565.6l13.5 24h-27zM423.1 1565.2l13.5 24h-27zM421.5 1564.8l13.5 24h-27zM419.9 1566l13.5 24h-27zM418.3 1565.5l13.5 24h-27zM416.7 1565.8l13.5 24h-27zM415.1 1566l13.5 24h-27zM413.5 1565.8l13.5 24h-27zM411.9 1566.1l13.5 24h-27zM410.3 1565.4l13.5 24h-27zM408.7 1565.9l13.5 24h-27zM407.1 1565.4l13.5 24h-27zM405.5 1566.1l13.5 24h-27zM403.9 1566l13.5 24h-27zM402.3 1564.9l13.5 24h-27zM400.7 1565l13.5 24h-27zM399.1 1565.1l13.5 24h-27zM397.5 1566.2l13.5 24h-27zM395.9 1565.4l13.5 24h-27zM394.3 1565.7l13.5 24h-27zM392.7 1565.2l13.5 24h-27zM391.1 1565.5l13.5 24h-27zM389.5 1565.3l13.5 24h-27zM387.9 1565.3l13.5 24h-27zM386.3 1565.6l13.5 24h-27zM384.7 1565.6l13.5 24h-27zM383.1 1566.1l13.5 24h-27zM381.5 1565.8l13.5 24h-27zM379.9 1566.1l13.5 24h-27zM378.3 1566l13.5 24h-27zM376.7 1566.2l13.5 24h-27zM375.1 1565.7l13.5 24h-27zM373.5 1565l13.5 24h-27zM371.9 1566l13.5 24h-27zM370.3 1566.2l13.5 24h-27zM368.7 1566.1l13.5 24h-27zM367.1 1565.6l13.5 24h-27zM365.5 1565.8l13.5 24h-27zM363.9 1565.1l13.5 24h-27zM362.3 1566l13.5 24h-27zM360.7 1565.6l13.5 24h-27zM359.1 1565.2l13.5 24h-27zM357.5 1564.9l13.5 24h-27zM355.9 1566l13.5 24h-27zM354.3 1566.2l13.5 24h-27zM352.7 1564.9l13.5 24h-27zM351.1 1565.9l13.5 24h-27zM349.5 1565.4l13.5 24h-27zM347.9 1565l13.5 24h-27zM346.3 1565.2l13.5 24h-27zM344.7 1565.9l13.5 24h-27zM343.1 1566l13.5 24h-27zM341.5 1564.9l13.5 24h-27zM339.9 1565.7l13.5 24h-27zM338.3 1564.9l13.5 24h-27zM336.7 1565.8l13.5 24h-27zM335.1 1565.3l13.5 24h-27zM333.5 1566l13.5 24h-27zM331.9 1566.2l13.5 24h-27zM330.3 1565.5l13.5 24h-27zM328.7 1566.2l13.5 24h-27zM327.1 1565.2l13.5 24h-27zM325.5 1564.9l13.5 24h-27zM323.9 1565.6l13.5 24h-27zM322.3 1564.8l13.5 24h-27zM320.7 1565.1l13.5 24h-27zM319.1 1565.4l13.5 24h-27zM317.5 1565.7l13.5 24h-27zM315.9 1565l13.5 24h-27zM314.3 1564.9l13.5 24h-27zM312.7 1566l13.5 24h-27zM311.1 1565.2l13.5 24h-27zM309.5 1566.1l13.5 24h-27zM307.9 1566.1l13.5 24h-27zM306.3 1565.3l13.5 24h-27zM304.7 1565.4l13.5 24h-27zM303.1 1565.5l13.5 24h-27zM301.5 1565.7l13.5 24h-27z" fill="#ff00ff"/>
<path d="M489.6 1298.4L489 1315.9M488.2 1343.1L487.2 1385.2M486.6 1412.4L485.6 1457.5M484.8 1484.7L484.2 1501.9M483.1 1529L482.7 1535.6M481.4 1562.8L481.2 1565.9" stroke="#ff0000" stroke-width="3.5" fill="none"/>
<path d="M2279 594.9h27l-13.5 24zM2253 601.8h27l-13.5 24zM2227.1 611.6h27l-13.5 24zM2201.1 618.7h27l-13.5 24zM2175.1 626.1h27l-13.5 24zM2149.1 634.6h27l-13.5 24zM2123.2 643.6h27l-13.5 24zM2097.2 651h27l-13.5 24zM2071.2 659.9h27l-13.5 24zM2045.2 667.9h27l-13.5 24zM2019.3 673.8h27l-13.5 24zM1993.3 681.8h27l-13.5 24zM1967.3 689.7h27l-13.5 24zM1941.4 697.7h27l-13.5 24zM1915.4 704.7h27l-13.5 24zM1889.4 712.6h27l-13.5 24zM1863.4 719.7h27l-13.5 24zM1837.5 728h27l-13.5 24zM1811.5 734.7h27l-13.5 24zM1785.5 741.9h27l-13.5 24zM1759.6 749.8h27l-13.5 24zM1733.6 758h27l-13.5 24zM1707.6 765.4h27l-13.5 24zM1681.6 772.5h27l-13.5 24zM1655.7 780.7h27l-13.5 24zM1629.7 787.9h27l-13.5 24zM1603.7 795.8h27l-13.5 24zM1577.7 803.4h27l-13.5 24zM1551.8 809.6h27l-13.5 24zM1525.8 817.3h27l-13.5 24zM1499.8 825.7h27l-13.5 24zM1473.9 832.2h27l-13.5 24zM1447.9 840.6h27l-13.5 24zM1421.9 846.6h27l-13.5 24zM1395.9 853.8h27l-13.5 24zM1370 862.1h27l-13.5 24zM1344 868.1h27l-13.5 24zM1318 877.2h27l-13.5 24zM1292 884.1h27l-13.5 24zM1266.1 891.3h27l-13.5 24zM1240.1 900.4h27l-13.5 24zM1214.1 906.4h27l-13.5 24zM1188.2 913.6h27l-13.5 24zM1162.2 921.9h27l-13.5 24zM1136.2 929.1h27l-13.5 24zM1110.2 936.3h27l-13.5 24zM1084.3 943.5h27l-13.5 24zM1058.3 950.6h27l-13.5 24zM1032.3 958.8h27l-13.5 24zM1006.3 967.2h27l-13.5 24zM980.4 975.4h27l-13.5 24zM954.4 982.1h27l-13.5 24zM928.4 990.2h27l-13.5 24zM902.5 998.2h27l-13.5 24zM876.5 1005.5h27l-13.5 24zM850.5 1011.7h27l-13.5 24zM824.5 1022.5h27l-13.5 24zM798.6 1030.5h27l-13.5 24zM772.6 1038.6h27l-13.5 24zM746.6 1046.7h27l-13.5 24zM720.6 1055.9h27l-13.5 24zM694.7 1064.8h27l-13.5 24zM668.7 1074.5h27l-13.5 24zM642.7 1086h27l-13.5 24zM616.8 1096h27l-13.5 24zM590.8 1105.9h27l-13.5 24zM564.8 1118.4h27l-13.5 24zM539 1131.6h27l-13.5 24zM537.4 1132.3h27l-13.5 24zM535.8 1133h27l-13.5 24zM534.2 1133.8h27l-13.5 24zM532.6 1134.7h27l-13.5 24zM531 1135.6h27l-13.5 24zM529.4 1136.6h27l-13.5 24zM527.8 1137.6h27l-13.5 24zM526.2 1138.9h27l-13.5 24zM524.6 1140.1h27l-13.5 24zM523 1141.4h27l-13.5 24zM521.4 1142.6h27l-13.5 24zM519.8 1143.7h27l-13.5 24zM518.2 1144.8h27l-13.5 24zM516.6 1145.8h27l-13.5 24zM515 1146.8h27l-13.5 24zM513.4 1147.9h27l-13.5 24zM511.8 1149h27l-13.5 24zM510.2 1150.3h27l-13.5 24zM508.6 1151.6h27l-13.5 24zM507 1153h27l-13.5 24zM505.4 1154.5h27l-13.5 24zM503.8 1155.9h27l-13.5 24zM502.2 1157.5h27l-13.5 24zM500.6 1159.1h27l-13.5 24zM499 1160.8h27l-13.5 24zM497.4 1162.7h27l-13.5 24zM495.8 1164.9h27l-13.5 24zM494.2 1167.3h27l-13.5 24zM492.6 1169.9h27l-13.5 24zM491 1173h27l-13.5 24zM489.4 1176.7h27l-13.5 24zM487.8 1181h27l-13.5 24zM486.2 1186h27l-13.5 24zM484.6 1191.9h27l-13.5 24zM483 1199.4h27l-13.5 24zM481.4 1209.7h27l-13.5 24zM479.8 1228.5h27l-13.5 24zM478.2 1250.4h27l-13.5 24zM476.6 1272.9h27l-13.5 24zM475 1317.5h27l-13.5 24zM473.4 1386.8h27l-13.5 24zM471.8 1459.1h27l-13.5 24zM470.2 1503.5h27l-13.5 24zM468.6 1537.2h27l-13.5 24zM467 1567.5h27l-13.5 24zM465.4 1568h27l-13.5 24z" fill="#ff0000"/>
<path d="M593 900.8L589.6 903.1M567.7 919.4L562.9 923.2M542.9 941.6L535.9 948.8M493.8 1041.7L493.6 1044.9M487.6 1135.6L487 1150.8M486.2 1178L485.2 1218.8M484.7 1246L483.5 1327.1M483.1 1354.3L481.9 1415.6" stroke="#00ffff" stroke-width="3.5" fill="none"/>
<path d="M2318.5 212.4l14.5 14.5l-14.5 14.5l-14.5-14.5zM2292.5 223.2l14.5 14.5l-14.5 14.5l-14.5-14.5zM2266.5 233.5l14.5 14.5l-14.5 14.5l-14.5-14.5zM2240.6 243.5l14.5 14.5l-14.5 14.5l-14.5-14.5zM2214.6 254.2l14.5 14.5l-14.5 14.5l-14.5-14.5zM2188.6 263.5l14.5 14.5l-14.5 14.5l-14.5-14.5zM2162.6 274l14.5 14.5l-14.5 14.5l-14.5-14.5zM2136.7 283.5l14.5 14.5l-14.5 14.5l-14.5-14.5zM2110.7 293.2l14.5 14.5l-14.5 14.5l-14.5-14.5zM2084.7 303.5l14.5 14.5l-14.5 14.5l-14.5-14.5zM2058.7 312.5l14.5 14.5l-14.5 14.5l-14.5-14.5zM2032.8 321.8l14.5 14.5l-14.5 14.5l-14.5-14.5zM2006.8 330.5l14.5 14.5l-14.5 14.5l-14.5-14.5zM1980.8 340l14.5 14.5l-14.5 14.5l-14.5-14.5zM1954.9 349.2l14.5 14.5l-14.5 14.5l-14.5-14.5zM1928.9 359.2l14.5 14.5l-14.5 14.5l-14.5-14.5zM1902.9 367.5l14.5 14.5l-14.5 14.5l-14.5-14.5zM1876.9 377.2l14.5 14.5l-14.5 14.5l-14.5-14.5zM1851 387.2l14.5 14.5l-14.5 14.5l-14.5-14.5zM1825 396.2l14.5 14.5l-14.5 14.5l-14.5-14.5zM1799 405.4l14.5 14.5l-14.5 14.5l-14.5-14.5zM1773.1 415.4l14.5 14.5l-14.5 14.5l-14.5-14.5zM1747.1 425.2l14.5 14.5l-14.5 14.5l-14.5-14.5zM1721.1 433.6l14.5 14.5l-14.5 14.5l-14.5-14.5zM1695.1 443.2l14.5 14.5l-14.5 14.5l-14.5-14.5zM1669.2 452.2l14.5 14.5l-14.5 14.5l-14.5-14.5zM1643.2 462.3l14.5 14.5l-14.5 14.5l-14.5-14.5zM1617.2 470.4l14.5 14.5l-14.5 14.5l-14.5-14.5zM1591.2 480l14.5 14.5l-14.5 14.5l-14.5-14.5zM1565.3 489.1l14.5 14.5l-14.5 14.5l-14.5-14.5zM1539.3 499.2l14.5 14.5l-14.5 14.5l-14.5-14.5zM1513.3 507.5l14.5 14.5l-14.5 14.5l-14.5-14.5zM1487.4 516.6l14.5 14.5l-14.5 14.5l-14.5-14.5zM1461.4 526.4l14.5 14.5l-14.5 14.5l-14.5-14.5zM1435.4 535.7l14.5 14.5l-14.5 14.5l-14.5-14.5zM1409.4 544.8l14.5 14.5l-14.5 14.5l-14.5-14.5zM1383.5 554.7l14.5 14.5l-14.5 14.5l-14.5-14.5zM1357.5 564.9l14.5 14.5l-14.5 14.5l-14.5-14.5zM1331.5 574.6l14.5 14.5l-14.5 14.5l-14.5-14.5zM1305.5 583.2l14.5 14.5l-14.5 14.5l-14.5-14.5zM1279.6 592.3l14.5 14.5l-14.5 14.5l-14.5-14.5zM1253.6 602.1l14.5 14.5l-14.5 14.5l-14.5-14.5zM1227.6 610.9l14.5 14.5l-14.5 14.5l-14.5-14.5zM1201.7 620l14.5 14.5l-14.5 14.5l-14.5-14.5zM1175.7 630.1l14.5 14.5l-14.5 14.5l-14.5-14.5zM1149.7 639.6l14.5 14.5l-14.5 14.5l-14.5-14.5zM1123.7 649.7l14.5 14.5l-14.5 14.5l-14.5-14.5zM1097.8 659.5l14.5 14.5l-14.5 14.5l-14.5-14.5zM1071.8 669.1l14.5 14.5l-14.5 14.5l-14.5-14.5zM1045.8 679.1l14.5 14.5l-14.5 14.5l-14.5-14.5zM1019.8 688.7l14.5 14.5l-14.5 14.5l-14.5-14.5zM993.9 700l14.5 14.5l-14.5 14.5l-14.5-14.5zM967.9 708.9l14.5 14.5l-14.5 14.5l-14.5-14.5zM941.9 719.7l14.5 14.5l-14.5 14.5l-14.5-14.5zM916 729.9l14.5 14.5l-14.5 14.5l-14.5-14.5zM890 739.9l14.5 14.5l-14.5 14.5l-14.5-14.5zM864 751.2l14.5 14.5l-14.5 14.5l-14.5-14.5zM838 762.8l14.5 14.5l-14.5 14.5l-14.5-14.5zM812.1 774.4l14.5 14.5l-14.5 14.5l-14.5-14.5zM786.1 785.1l14.5 14.5l-14.5 14.5l-14.5-14.5zM760.1 797l14.5 14.5l-14.5 14.5l-14.5-14.5zM734.1 809.4l14.5 14.5l-14.5 14.5l-14.5-14.5zM708.2 822.1l14.5 14.5l-14.5 14.5l-14.5-14.5zM682.2 835.2l14.5 14.5l-14.5 14.5l-14.5-14.5zM656.2 848.7l14.5 14.5l-14.5 14.5l-14.5-14.5zM630.3 863l14.5 14.5l-14.5 14.5l-14.5-14.5zM604.3 878.6l14.5 14.5l-14.5 14.5l-14.5-14.5zM578.3 896.3l14.5 14.5l-14.5 14.5l-14.5-14.5zM552.3 917.3l14.5 14.5l-14.5 14.5l-14.5-14.5zM526.5 944.1l14.5 14.5l-14.5 14.5l-14.5-14.5zM524.9 946.3l14.5 14.5l-14.5 14.5l-14.5-14.5zM523.3 948.5l14.5 14.5l-14.5 14.5l-14.5-14.5zM521.7 950.7l14.5 14.5l-14.5 14.5l-14.5-14.5zM520.1 952.9l14.5 14.5l-14.5 14.5l-14.5-14.5zM518.5 955.1l14.5 14.5l-14.5 14.5l-14.5-14.5zM516.9 957.3l14.5 14.5l-14.5 14.5l-14.5-14.5zM515.3 959.5l14.5 14.5l-14.5 14.5l-14.5-14.5zM513.7 961.7l14.5 14.5l-14.5 14.5l-14.5-14.5zM512.1 963.7l14.5 14.5l-14.5 14.5l-14.5-14.5zM510.5 965.7l14.5 14.5l-14.5 14.5l-14.5-14.5zM508.9 967.7l14.5 14.5l-14.5 14.5l-14.5-14.5zM507.3 969.9l14.5 14.5l-14.5 14.5l-14.5-14.5zM505.7 972.3l14.5 14.5l-14.5 14.5l-14.5-14.5zM504.1 975.1l14.5 14.5l-14.5 14.5l-14.5-14.5zM502.5 978.4l14.5 14.5l-14.5 14.5l-14.5-14.5zM500.9 982.4l14.5 14.5l-14.5 14.5l-14.5-14.5zM499.3 986.9l14.5 14.5l-14.5 14.5l-14.5-14.5zM497.7 991.9l14.5 14.5l-14.5 14.5l-14.5-14.5zM496.1 997.1l14.5 14.5l-14.5 14.5l-14.5-14.5zM494.5 1013.6l14.5 14.5l-14.5 14.5l-14.5-14.5zM492.9 1044l14.5 14.5l-14.5 14.5l-14.5-14.5zM491.3 1059.2l14.5 14.5l-14.5 14.5l-14.5-14.5zM489.7 1079.5l14.5 14.5l-14.5 14.5l-14.5-14.5zM488.1 1107.5l14.5 14.5l-14.5 14.5l-14.5-14.5zM486.5 1149.9l14.5 14.5l-14.5 14.5l-14.5-14.5zM484.9 1217.9l14.5 14.5l-14.5 14.5l-14.5-14.5zM483.3 1326.2l14.5 14.5l-14.5 14.5l-14.5-14.5zM481.7 1414.6l14.5 14.5l-14.5 14.5l-14.5-14.5zM480.1 1434.3l14.5 14.5l-14.5 14.5l-14.5-14.5zM478.5 1451.8l14.5 14.5l-14.5 14.5l-14.5-14.5zM476.9 1466.7l14.5 14.5l-14.5 14.5l-14.5-14.5zM475.3 1480.4l14.5 14.5l-14.5 14.5l-14.5-14.5zM473.7 1493.7l14.5 14.5l-14.5 14.5l-14.5-14.5zM472.1 1508.7l14.5 14.5l-14.5 14.5l-14.5-14.5zM470.5 1526.3l14.5 14.5l-14.5 14.5l-14.5-14.5zM468.9 1537.8l14.5 14.5l-14.5 14.5l-14.5-14.5zM467.3 1546.7l14.5 14.5l-14.5 14.5l-14.5-14.5zM465.7 1552.6l14.5 14.5l-14.5 14.5l-14.5-14.5zM464.1 1557.1l14.5 14.5l-14.5 14.5l-14.5-14.5zM462.5 1560.8l14.5 14.5l-14.5 14.5l-14.5-14.5zM460.9 1563l14.5 14.5l-14.5 14.5l-14.5-14.5zM459.3 1564.3l14.5 14.5l-14.5 14.5l-14.5-14.5zM457.7 1564.2l14.5 14.5l-14.5 14.5l-14.5-14.5zM456.1 1565.2l14.5 14.5l-14.5 14.5l-14.5-14.5zM454.5 1566.2l14.5 14.5l-14.5 14.5l-14.5-14.5zM452.9 1566.1l14.5 14.5l-14.5 14.5l-14.5-14.5zM451.3 1566.4l14.5 14.5l-14.5 14.5l-14.5-14.5zM449.7 1565.6l14.5 14.5l-14.5 14.5l-14.5-14.5zM448.1 1566l14.5 14.5l-14.5 14.5l-14.5-14.5zM446.5 1565.7l14.5 14.5l-14.5 14.5l-14.5-14.5zM444.9 1566l14.5 14.5l-14.5 14.5l-14.5-14.5zM443.3 1566.1l14.5 14.5l-14.5 14.5l-14.5-14.5zM441.7 1565.5l14.5 14.5l-14.5 14.5l-14.5-14.5zM440.1 1565.7l14.5 14.5l-14.5 14.5l-14.5-14.5zM438.5 1565.8l14.5 14.5l-14.5 14.5l-14.5-14.5zM436.9 1566.4l14.5 14.5l-14.5 14.5l-14.5-14.5zM435.3 1566.3l14.5 14.5l-14.5 14.5l-14.5-14.5zM433.7 1565.7l14.5 14.5l-14.5 14.5l-14.5-14.5zM432.1 1566.3l14.5 14.5l-14.5 14.5l-14.5-14.5zM430.5 1565.6l14.5 14.5l-14.5 14.5l-14.5-14.5zM428.9 1566.1l14.5 14.5l-14.5 14.5l-14.5-14.5zM427.3 1565.6l14.5 14.5l-14.5 14.5l-14.5-14.5zM425.7 1565.5l14.5 14.5l-14.5 14.5l-14.5-14.5zM424.1 1566.4l14.5 14.5l-14.5 14.5l-14.5-14.5zM422.5 1565.7l14.5 14.5l-14.5 14.5l-14.5-14.5zM420.9 1565.7l14.5 14.5l-14.5 14.5l-14.5-14.5zM419.3 1566.5l14.5 14.5l-14.5 14.5l-14.5-14.5zM417.7 1566.4l14.5 14.5l-14.5 14.5l-14.5-14.5zM416.1 1565.8l14.5 14.5l-14.5 14.5l-14.5-14.5zM414.5 1566.5l14.5 14.5l-14.5 14.5l-14.5-14.5zM412.9 1566l14.5 14.5l-14.5 14.5l-14.5-14.5zM411.3 1566.2l14.5 14.5l-14.5 14.5l-14.5-14.5zM409.7 1565.7l14.5 14.5l-14.5 14.5l-14.5-14.5zM408.1 1566.4l14.5 14.5l-14.5 14.5l-14.5-14.5zM406.5 1566.2l14.5 14.5l-14.5 14.5l-14.5-14.5zM404.9 1566.5l14.5 14.5l-14.5 14.5l-14.5-14.5zM403.3 1566.4l14.5 14.5l-14.5 14.5l-14.5-14.5zM401.7 1565.8l14.5 14.5l-14.5 14.5l-14.5-14.5zM400.1 1565.9l14.5 14.5l-14.5 14.5l-14.5-14.5zM398.5 1565.7l14.5 14.5l-14.5 14.5l-14.5-14.5zM396.9 1565.6l14.5 14.5l-14.5 14.5l-14.5-14.5zM395.3 1565.6l14.5 14.5l-14.5 14.5l-14.5-14.5zM393.7 1565.8l14.5 14.5l-14.5 14.5l-14.5-14.5zM392.1 1566.1l14.5 14.5l-14.5 14.5l-14.5-14.5zM390.5 1565.5l14.5 14.5l-14.5 14.5l-14.5-14.5zM388.9 1566.2l14.5 14.5l-14.5 14.5l-14.5-14.5zM387.3 1565.8l14.5 14.5l-14.5 14.5l-14.5-14.5zM385.7 1565.8l14.5 14.5l-14.5 14.5l-14.5-14.5zM384.1 1566.3l14.5 14.5l-14.5 14.5l-14.5-14.5zM382.5 1566l14.5 14.5l-14.5 14.5l-14.5-14.5zM380.9 1565.8l14.5 14.5l-14.5 14.5l-14.5-14.5zM379.3 1566l14.5 14.5l-14.5 14.5l-14.5-14.5zM377.7 1566.2l14.5 14.5l-14.5 14.5l-14.5-14.5zM376.1 1565.6l14.5 14.5l-14.5 14.5l-14.5-14.5zM374.5 1566.5l14.5 14.5l-14.5 14.5l-14.5-14.5zM372.9 1565.5l14.5 14.5l-14.5 14.5l-14.5-14.5zM371.3 1566.2l14.5 14.5l-14.5 14.5l-14.5-14.5zM369.7 1566.3l14.5 14.5l-14.5 14.5l-14.5-14.5zM368.1 1565.5l14.5 14.5l-14.5 14.5l-14.5-14.5zM366.5 1566.3l14.5 14.5l-14.5 14.5l-14.5-14.5zM364.9 1565.9l14.5 14.5l-14.5 14.5l-14.5-14.5zM363.3 1566.1l14.5 14.5l-14.5 14.5l-14.5-14.5zM361.7 1565.5l14.5 14.5l-14.5 14.5l-14.5-14.5zM360.1 1565.5l14.5 14.5l-14.5 14.5l-14.5-14.5zM358.5 1565.7l14.5 14.5l-14.5 14.5l-14.5-14.5zM356.9 1566.5l14.5 14.5l-14.5 14.5l-14.5-14.5zM355.3 1565.7l14.5 14.5l-14.5 14.5l-14.5-14.5zM353.7 1566.3l14.5 14.5l-14.5 14.5l-14.5-14.5zM352.1 1566.4l14.5 14.5l-14.5 14.5l-14.5-14.5zM350.5 1566.4l14.5 14.5l-14.5 14.5l-14.5-14.5zM348.9 1565.8l14.5 14.5l-14.5 14.5l-14.5-14.5zM347.3 1565.9l14.5 14.5l-14.5 14.5l-14.5-14.5zM345.7 1566l14.5 14.5l-14.5 14.5l-14.5-14.5zM344.1 1566.3l14.5 14.5l-14.5 14.5l-14.5-14.5zM342.5 1565.6l14.5 14.5l-14.5 14.5l-14.5-14.5zM340.9 1566.2l14.5 14.5l-14.5 14.5l-14.5-14.5zM339.3 1566.3l14.5 14.5l-14.5 14.5l-14.5-14.5zM337.7 1566.4l14.5 14.5l-14.5 14.5l-14.5-14.5zM336.1 1565.5l14.5 14.5l-14.5 14.5l-14.5-14.5zM334.5 1566.4l14.5 14.5l-14.5 14.5l-14.5-14.5zM332.9 1565.6l14.5 14.5l-14.5 14.5l-14.5-14.5zM331.3 1565.8l14.5 14.5l-14.5 14.5l-14.5-14.5zM329.7 1566.1l14.5 14.5l-14.5 14.5l-14.5-14.5zM328.1 1566.4l14.5 14.5l-14.5 14.5l-14.5-14.5zM326.5 1565.8l14.5 14.5l-14.5 14.5l-14.5-14.5zM324.9 1566.4l14.5 14.5l-14.5 14.5l-14.5-14.5zM323.3 1566l14.5 14.5l-14.5 14.5l-14.5-14.5zM321.7 1565.8l14.5 14.5l-14.5 14.5l-14.5-14.5zM320.1 1565.8l14.5 14.5l-14.5 14.5l-14.5-14.5zM318.5 1565.7l14.5 14.5l-14.5 14.5l-14.5-14.5zM316.9 1565.6l14.5 14.5l-14.5 14.5l-14.5-14.5zM315.3 1565.6l14.5 14.5l-14.5 14.5l-14.5-14.5zM313.7 1566.2l14.5 14.5l-14.5 14.5l-14.5-14.5zM312.1 1566.5l14.5 14.5l-14.5 14.5l-14.5-14.5zM310.5 1565.7l14.5 14.5l-14.5 14.5l-14.5-14.5zM308.9 1565.5l14.5 14.5l-14.5 14.5l-14.5-14.5zM307.3 1566.5l14.5 14.5l-14.5 14.5l-14.5-14.5zM305.7 1566l14.5 14.5l-14.5 14.5l-14.5-14.5zM304.1 1565.9l14.5 14.5l-14.5 14.5l-14.5-14.5zM302.5 1565.7l14.5 14.5l-14.5 14.5l-14.5-14.5z" fill="#00ffff"/>
<path d="M644.8 969.7L641.7 971.6M567.2 1012.4L563.4 1015.1M541.7 1031.5L537 1035.3M491.4 1169.4L491 1176.1M489.9 1203.3L489.3 1222M488.3 1249.2L487.7 1266.5M486.8 1293.7L486 1324.7M485.1 1351.8L484.5 1372" stroke="#0000ff" stroke-width="3.5" fill="none"/>
<path d="M2308.2 320.2h20.5v20.5h-20.5zM2282.2 329.2h20.5v20.5h-20.5zM2256.3 341.8h20.5v20.5h-20.5zM2230.3 351.8h20.5v20.5h-20.5zM2204.3 361.2h20.5v20.5h-20.5zM2178.4 371.2h20.5v20.5h-20.5zM2152.4 381.2h20.5v20.5h-20.5zM2126.4 392.2h20.5v20.5h-20.5zM2100.4 403.2h20.5v20.5h-20.5zM2074.5 413.2h20.5v20.5h-20.5zM2048.5 422.2h20.5v20.5h-20.5zM2022.5 431.8h20.5v20.5h-20.5zM1996.6 441.8h20.5v20.5h-20.5zM1970.6 450.8h20.5v20.5h-20.5zM1944.6 461.2h20.5v20.5h-20.5zM1918.6 471.2h20.5v20.5h-20.5zM1892.7 480.8h20.5v20.5h-20.5zM1866.7 489.8h20.5v20.5h-20.5zM1840.7 500.8h20.5v20.5h-20.5zM1814.7 510h20.5v20.5h-20.5zM1788.8 520.1h20.5v20.5h-20.5zM1762.8 529.2h20.5v20.5h-20.5zM1736.8 538.8h20.5v20.5h-20.5zM1710.9 547.9h20.5v20.5h-20.5zM1684.9 556.8h20.5v20.5h-20.5zM1658.9 567.2h20.5v20.5h-20.5zM1632.9 575.6h20.5v20.5h-20.5zM1607 587.1h20.5v20.5h-20.5zM1581 595.8h20.5v20.5h-20.5zM1555 605h20.5v20.5h-20.5zM1529 613.8h20.5v20.5h-20.5zM1503.1 624h20.5v20.5h-20.5zM1477.1 634h20.5v20.5h-20.5zM1451.1 643.1h20.5v20.5h-20.5zM1425.2 652.5h20.5v20.5h-20.5zM1399.2 660.6h20.5v20.5h-20.5zM1373.2 670.5h20.5v20.5h-20.5zM1347.2 680h20.5v20.5h-20.5zM1321.3 689h20.5v20.5h-20.5zM1295.3 698h20.5v20.5h-20.5zM1269.3 708.8h20.5v20.5h-20.5zM1243.3 716.6h20.5v20.5h-20.5zM1217.4 726h20.5v20.5h-20.5zM1191.4 736.2h20.5v20.5h-20.5zM1165.4 746.5h20.5v20.5h-20.5zM1139.5 755.5h20.5v20.5h-20.5zM1113.5 764.2h20.5v20.5h-20.5zM1087.5 774.5h20.5v20.5h-20.5zM1061.5 784h20.5v20.5h-20.5zM1035.6 794h20.5v20.5h-20.5zM1009.6 804.1h20.5v20.5h-20.5zM983.6 814h20.5v20.5h-20.5zM957.7 823.9h20.5v20.5h-20.5zM931.7 834.4h20.5v20.5h-20.5zM905.7 843.2h20.5v20.5h-20.5zM879.7 854.2h20.5v20.5h-20.5zM853.8 864.2h20.5v20.5h-20.5zM827.8 873h20.5v20.5h-20.5zM801.8 884.1h20.5v20.5h-20.5zM775.8 894h20.5v20.5h-20.5zM749.9 906h20.5v20.5h-20.5zM723.9 917.1h20.5v20.5h-20.5zM697.9 928.6h20.5v20.5h-20.5zM672 940.1h20.5v20.5h-20.5zM646 952.1h20.5v20.5h-20.5zM620 968.6h20.5v20.5h-20.5zM594 979.5h20.5v20.5h-20.5zM568.1 994.2h20.5v20.5h-20.5zM542.1 1012.8h20.5v20.5h-20.5zM516.1 1033.5h20.5v20.5h-20.5zM509 1042.4h20.5v20.5h-20.5zM507.4 1043.9h20.5v20.5h-20.5zM505.8 1045.5h20.5v20.5h-20.5zM504.1 1047.3h20.5v20.5h-20.5zM502.5 1049.1h20.5v20.5h-20.5zM500.9 1051h20.5v20.5h-20.5zM499.3 1053h20.5v20.5h-20.5zM497.7 1055.3h20.5v20.5h-20.5zM496.1 1058h20.5v20.5h-20.5zM494.5 1061.6h20.5v20.5h-20.5zM492.9 1066.6h20.5v20.5h-20.5zM491.3 1072.3h20.5v20.5h-20.5zM489.7 1078.7h20.5v20.5h-20.5zM488.1 1086.6h20.5v20.5h-20.5zM486.5 1098h20.5v20.5h-20.5zM484.9 1112.4h20.5v20.5h-20.5zM483.3 1126.7h20.5v20.5h-20.5zM481.7 1145.6h20.5v20.5h-20.5zM480.1 1179.5h20.5v20.5h-20.5zM478.5 1225.4h20.5v20.5h-20.5zM476.9 1269.8h20.5v20.5h-20.5zM475.3 1328h20.5v20.5h-20.5zM473.7 1375.4h20.5v20.5h-20.5zM472.1 1403.8h20.5v20.5h-20.5zM470.5 1431.1h20.5v20.5h-20.5zM468.9 1457.1h20.5v20.5h-20.5zM467.3 1480.6h20.5v20.5h-20.5zM465.7 1496.4h20.5v20.5h-20.5zM464.1 1514.5h20.5v20.5h-20.5zM462.5 1536.9h20.5v20.5h-20.5zM460.9 1549.4h20.5v20.5h-20.5zM459.3 1557.8h20.5v20.5h-20.5zM457.7 1562.1h20.5v20.5h-20.5zM456.1 1565.3h20.5v20.5h-20.5zM454.5 1567.5h20.5v20.5h-20.5zM452.9 1568.7h20.5v20.5h-20.5zM451.3 1569.1h20.5v20.5h-20.5zM449.7 1569.3h20.5v20.5h-20.5zM448.1 1569.6h20.5v20.5h-20.5zM446.5 1569.7h20.5v20.5h-20.5zM444.9 1569.7h20.5v20.5h-20.5zM443.3 1569.8h20.5v20.5h-20.5zM441.7 1569.8h20.5v20.5h-20.5zM440.1 1569.8h20.5v20.5h-20.5zM438.5 1569.8h20.5v20.5h-20.5zM436.9 1569.8h20.5v20.5h-20.5zM435.3 1569.8h20.5v20.5h-20.5zM433.7 1569.8h20.5v20.5h-20.5zM432.1 1569.8h20.5v20.5h-20.5zM430.5 1569.8h20.5v20.5h-20.5zM428.9 1569.8h20.5v20.5h-20.5zM427.3 1569.8h20.5v20.5h-20.5zM425.7 1569.8h20.5v20.5h-20.5zM424.1 1569.8h20.5v20.5h-20.5zM422.5 1569.8h20.5v20.5h-20.5zM420.9 1569.8h20.5v20.5h-20.5zM419.3 1569.8h20.5v20.5h-20.5zM417.7 1569.8h20.5v20.5h-20.5zM416.1 1569.8h20.5v20.5h-20.5zM414.5 1569.8h20.5v20.5h-20.5zM412.9 1569.8h20.5v20.5h-20.5zM411.3 1569.8h20.5v20.5h-20.5zM409.7 1569.8h20.5v20.5h-20.5zM408.1 1569.8h20.5v20.5h-20.5zM406.5 1569.8h20.5v20.5h-20.5zM404.9 1569.8h20.5v20.5h-20.5zM403.3 1569.8h20.5v20.5h-20.5zM401.7 1569.8h20.5v20.5h-20.5zM400.1 1569.8h20.5v20.5h-20.5zM398.5 1569.8h20.5v20.5h-20.5zM396.9 1569.8h20.5v20.5h-20.5zM395.3 1569.8h20.5v20.5h-20.5zM393.7 1569.8h20.5v20.5h-20.5zM392.1 1569.8h20.5v20.5h-20.5zM390.5 1569.8h20.5v20.5h-20.5zM388.9 1569.8h20.5v20.5h-20.5zM387.3 1569.8h20.5v20.5h-20.5zM385.7 1569.8h20.5v20.5h-20.5zM384.1 1569.8h20.5v20.5h-20.5zM382.5 1569.8h20.5v20.5h-20.5zM380.9 1569.8h20.5v20.5h-20.5zM379.3 1569.8h20.5v20.5h-20.5zM377.7 1569.8h20.5v20.5h-20.5zM376.1 1569.8h20.5v20.5h-20.5zM374.5 1569.8h20.5v20.5h-20.5zM372.9 1569.8h20.5v20.5h-20.5zM371.3 1569.8h20.5v20.5h-20.5zM369.7 1569.8h20.5v20.5h-20.5zM368.1 1569.8h20.5v20.5h-20.5zM366.5 1569.8h20.5v20.5h-20.5zM364.9 1569.8h20.5v20.5h-20.5zM363.3 1569.8h20.5v20.5h-20.5zM361.7 1569.8h20.5v20.5h-20.5zM360.1 1569.8h20.5v20.5h-20.5zM358.5 1569.8h20.5v20.5h-20.5zM356.9 1569.8h20.5v20.5h-20.5zM355.3 1569.8h20.5v20.5h-20.5zM353.7 1569.8h20.5v20.5h-20.5zM352.1 1569.8h20.5v20.5h-20.5zM350.5 1569.8h20.5v20.5h-20.5zM348.9 1569.8h20.5v20.5h-20.5zM347.3 1569.8h20.5v20.5h-20.5zM345.7 1569.8h20.5v20.5h-20.5zM344.1 1569.8h20.5v20.5h-20.5zM342.5 1569.8h20.5v20.5h-20.5zM340.9 1569.8h20.5v20.5h-20.5zM339.3 1569.8h20.5v20.5h-20.5zM337.7 1569.8h20.5v20.5h-20.5zM336.1 1569.8h20.5v20.5h-20.5zM334.5 1569.8h20.5v20.5h-20.5zM332.9 1569.8h20.5v20.5h-20.5zM331.3 1569.8h20.5v20.5h-20.5zM329.7 1569.8h20.5v20.5h-20.5zM328.1 1569.8h20.5v20.5h-20.5zM326.5 1569.8h20.5v20.5h-20.5zM324.9 1569.8h20.5v20.5h-20.5zM323.3 1569.8h20.5v20.5h-20.5zM321.7 1569.8h20.5v20.5h-20.5zM320.1 1569.8h20.5v20.5h-20.5zM318.5 1569.8h20.5v20.5h-20.5zM316.9 1569.8h20.5v20.5h-20.5zM315.3 1569.8h20.5v20.5h-20.5zM313.7 1569.8h20.5v20.5h-20.5zM312.1 1569.8h20.5v20.5h-20.5zM310.5 1569.8h20.5v20.5h-20.5zM308.9 1569.8h20.5v20.5h-20.5zM307.3 1569.8h20.5v20.5h-20.5zM305.7 1569.8h20.5v20.5h-20.5zM304.1 1569.8h20.5v20.5h-20.5zM302.5 1569.8h20.5v20.5h-20.5zM300.9 1569.8h20.5v20.5h-20.5zM299.3 1569.8h20.5v20.5h-20.5zM297.7 1569.8h20.5v20.5h-20.5zM296.1 1569.8h20.5v20.5h-20.5zM294.5 1569.8h20.5v20.5h-20.5zM292.9 1569.8h20.5v20.5h-20.5zM291.3 1569.8h20.5v20.5h-20.5z" fill="#0000ff"/>
<line x1="296" y1="1189.9" x2="2292.5" y2="602" stroke="#000" stroke-width="7.8"/>
</g>
<!-- arrow -->
<path d="M638.5 1170.5L655.5 1143" stroke="#000" stroke-width="5.5" stroke-linecap="round" fill="none"/>
<path d="M678.3 1103.3L645.2 1135.8L653.5 1141.5L658.5 1144.8L666.3 1148.8Z" fill="#000"/>
<!-- annotation -->
<g style="font-style:italic">
<text x="0" y="0" transform="translate(546.2,1233) scale(1.2,1)" style="font-size:91px">&#961;</text>
<text x="590.9" y="1261.6" style="font-size:67px">N</text>
<text x="661.9" y="1233.9" style="font-size:95px">(</text>
<text x="689.1" y="1233.8" style="font-size:95px">T</text>
<text x="733.2" y="1233.9" style="font-size:95px">)</text>
</g>
<!-- tick labels -->
<g class="tk">
<text transform="translate(260.8,331.5) scale(0.96,1)" text-anchor="end">1.0</text>
<text transform="translate(257.3,970.5) scale(0.948,1)" text-anchor="end">0.5</text>
<text transform="translate(260.8,1609.5) scale(0.985,1)" text-anchor="end">0.0</text>
<text transform="translate(563.5,1693.5) scale(0.955,1)" text-anchor="middle">100</text>
<text transform="translate(996.4,1693.5) scale(0.955,1)" text-anchor="middle">150</text>
<text transform="translate(1426.5,1693.5) scale(0.985,1)" text-anchor="middle">200</text>
<text transform="translate(1859.5,1693.5) scale(0.985,1)" text-anchor="middle">250</text>
<text transform="translate(2292.8,1693.5) scale(0.985,1)" text-anchor="middle">300</text>
</g>
<!-- x axis title -->
<g style="font-size:96px">
<text x="1294.9" y="1798.3" style="font-weight:bold;font-style:italic">T</text>
<text x="1373.5" y="1798.3">(</text>
<text x="1405" y="1798.3" style="font-weight:bold">K</text>
<text x="1474" y="1798.3">)</text>
</g>
<!-- y axis title -->
<g transform="translate(97.5,1000) rotate(-90)">
<text x="0" y="0" transform="translate(6.3,0) scale(1.146,1)" style="font-size:96px;font-weight:bold;font-style:italic">&#961;</text>
<text x="0" y="0" transform="translate(85.3,0) scale(0.9,1)" style="font-size:95px;font-style:italic">(</text>
<g style="font-family:'Liberation Sans',Arial,sans-serif;font-weight:bold;font-size:93px">
<text x="111" y="0" style="font-family:'Liberation Sans',Arial,sans-serif">m</text>
<text x="195.3" y="0" style="font-family:'Liberation Sans',Arial,sans-serif;font-size:86px">&#937;</text>
<text x="261" y="0" style="font-family:'Liberation Sans',Arial,sans-serif">.</text>
<text x="283" y="0" style="font-family:'Liberation Sans',Arial,sans-serif">c</text>
<text x="334" y="0" style="font-family:'Liberation Sans',Arial,sans-serif">m</text>
</g>
<text x="0" y="0" transform="translate(418.6,0) scale(0.9,1)" style="font-size:95px;font-style:italic">)</text>
</g>
<line x1="1634" y1="907.0" x2="1823.5" y2="907.0" stroke="#000000" stroke-width="4.2" stroke-linecap="round"/>
<path d="M1719.2 896.8h20.5v20.5h-20.5z" fill="#000000"/>
<text x="1846" y="935.8" class="lg">Pristine</text>
<line x1="1634" y1="1012.1" x2="1823.5" y2="1012.1" stroke="#00ff00" stroke-width="4.2" stroke-linecap="round"/>
<path d="M1718.5 1012.1a11 11 0 1 0 22 0a11 11 0 1 0-22 0z" fill="#00ff00"/>
<text x="1846" y="1040.9" class="lg">Y-BT-CuFO</text>
<line x1="1634" y1="1117.2" x2="1823.5" y2="1117.2" stroke="#ff00ff" stroke-width="4.2" stroke-linecap="round"/>
<path d="M1729.3 1102.6l13.2 22.2h-26.4z" fill="#ff00ff"/>
<text x="1846" y="1146.0" class="lg">Y-BT-ZnFO</text>
<line x1="1634" y1="1222.3" x2="1823.5" y2="1222.3" stroke="#ff0000" stroke-width="4.2" stroke-linecap="round"/>
<path d="M1716.1 1215.1h26.4l-13.2 22z" fill="#ff0000"/>
<text x="1846" y="1251.1" class="lg">Y-BT-MnFO</text>
<line x1="1634" y1="1327.4" x2="1823.5" y2="1327.4" stroke="#00ffff" stroke-width="4.2" stroke-linecap="round"/>
<path d="M1729.5 1312.9l14.5 14.5l-14.5 14.5l-14.5-14.5z" fill="#00ffff"/>
<text x="1846" y="1356.2" class="lg">Y-BT-NiFO</text>
<line x1="1634" y1="1432.5" x2="1823.5" y2="1432.5" stroke="#0000ff" stroke-width="4.2" stroke-linecap="round"/>
<path d="M1719.2 1422.2h20.5v20.5h-20.5z" fill="#0000ff"/>
<text x="1846" y="1461.3" class="lg">Y-BT-CoFO</text>
</svg>
</body></html>
